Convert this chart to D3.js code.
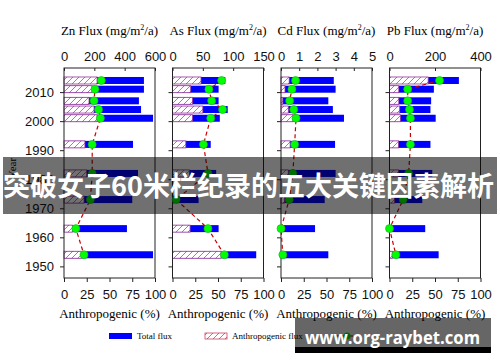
<!DOCTYPE html>
<html>
<head>
<meta charset="utf-8">
<script src="https://cdn.jsdelivr.net/npm/d3@7"></script>
<style>
  body { margin: 0; background: #fff; }
  svg { display: block; font-family: "Liberation Serif", "Times New Roman", serif; }
</style>
</head>
<body>
<svg class="svg"></svg>
<script>
// sampled years (core layers)
const years = [2014, 2011, 2007, 2004, 2001, 1992, 1982, 1973, 1963, 1954]
const yearTicks = [1950, 1960, 1970, 1980, 1990, 2000, 2010]
const pctTicks = [0, 25, 50, 75, 100]

const elements = ['Zn', 'As', 'Cd', 'Pb']
const fluxMax = [600, 150, 5, 400]
const fluxTicks = [[0, 200, 400, 600], [0, 50, 100, 150], [0, 1, 2, 3, 4, 5], [0, 200, 400]]

const znTotal = [527, 527, 494, 508, 587, 455, 488, 450, 415, 587]
const znAnthro = [218, 185, 165, 198, 218, 138, 150, 132, 55, 120]
const znPct = [41, 34, 33, 38, 40, 31, 31, 29, 13, 22]

const asTotal = [87, 76, 76, 91, 78, 63, 72, 43, 76, 138]
const asAnthro = [47, 30, 33, 50, 33, 22, 28, 2, 29, 80]
const asPct = [54, 40, 43, 55, 42, 34, 39, 4, 39, 57]

const cdTotal = [2.9, 3.0, 2.6, 2.85, 3.46, 2.97, 3.0, 2.4, 1.87, 2.6]
const cdAnthro = [0.45, 0.22, 0.1, 0.4, 0.66, 0.5, 0.4, 0.2, 0, 0.05]
const cdPct = [16, 12, 9.5, 14, 16.5, 15, 13, 9, 0, 2]

const pbTotal = [305, 195, 183, 180, 203, 180, 188, 144, 157, 216]
const pbAnthro = [170, 41, 41, 45, 48, 40, 40, 22, 0, 12]
const pbPct = [55, 20, 20, 22, 23, 23, 21, 15, 0, 7]

const totals = [znTotal, asTotal, cdTotal, pbTotal]
const anthros = [znAnthro, asAnthro, cdAnthro, pbAnthro]
const pcts = [znPct, asPct, cdPct, pbPct]

const bannerText = '突破女子60米栏纪录的五大关键因素解析'
const watermark = 'www.org-raybet.com'

// metrics
const metrics = { width: 500, height: 362, top: 68, bottom: 278, left0: 64, step: 108.5, panelW: 91, barH: 7 }

const svg = d3.select('.svg')
  .attr('width', metrics.width)
  .attr('height', metrics.height)

const defs = svg.append('defs')
const pat = defs.append('pattern')
  .attr('id', 'hatch')
  .attr('patternUnits', 'userSpaceOnUse')
  .attr('width', 6).attr('height', 6)
pat.append('rect').attr('width', 6).attr('height', 6).attr('fill', '#fff')
pat.append('path')
  .attr('d', 'M0,6 L6,0 M-1,1 L1,-1 M5,7 L7,5')
  .attr('stroke', '#e8506a').attr('stroke-width', 0.9)

const y = d3.scaleLinear().domain([1946, 2018.3]).range([metrics.bottom, metrics.top])

const rows = years.map((yr, i) => ({ year: yr, i }))

elements.forEach((el, k) => {
  const left = metrics.left0 + k * metrics.step
  const x = d3.scaleLinear().domain([0, fluxMax[k]]).range([left, left + metrics.panelW])
  const xp = d3.scaleLinear().domain([0, 100]).range([left, left + metrics.panelW])
  const g = svg.append('g')

  // title
  const title = g.append('text')
    .attr('x', left + metrics.panelW / 2)
    .attr('y', 35)
    .attr('text-anchor', 'middle')
    .attr('font-size', 13)
  title.append('tspan').text(`${el} Flux (mg/m`)
  title.append('tspan').attr('font-size', 8).attr('dy', -5).text('2')
  title.append('tspan').attr('dy', 5).text('/a)')

  // bars
  g.selectAll('rect.total')
    .data(rows)
    .join('rect')
    .attr('class', 'total')
    .attr('x', x(0))
    .attr('y', d => y(d.year) - metrics.barH / 2)
    .attr('width', d => x(totals[k][d.i]) - x(0))
    .attr('height', metrics.barH)
    .attr('fill', '#0000ff')

  g.selectAll('rect.anthro')
    .data(rows.filter(d => anthros[k][d.i] > 0))
    .join('rect')
    .attr('class', 'anthro')
    .attr('x', x(0))
    .attr('y', d => y(d.year) - metrics.barH / 2)
    .attr('width', d => x(anthros[k][d.i]) - x(0))
    .attr('height', metrics.barH)
    .attr('fill', 'url(#hatch)')
    .attr('stroke', '#993399')
    .attr('stroke-width', 0.8)

  // frame
  g.append('rect')
    .attr('x', left).attr('y', metrics.top)
    .attr('width', metrics.panelW).attr('height', metrics.bottom - metrics.top)
    .attr('fill', 'none').attr('stroke', '#222').attr('stroke-width', 1)

  // percentage line + dots
  const line = d3.line().x(d => xp(pcts[k][d.i])).y(d => y(d.year))
  g.append('path')
    .datum(rows)
    .attr('d', line)
    .attr('fill', 'none')
    .attr('stroke', '#cc0000')
    .attr('stroke-width', 1.2)
    .attr('stroke-dasharray', '4,3')

  g.selectAll('circle')
    .data(rows)
    .join('circle')
    .attr('cx', d => xp(pcts[k][d.i]))
    .attr('cy', d => y(d.year))
    .attr('r', 4)
    .attr('fill', '#00ff00')
    .attr('stroke', '#22aa22')
    .attr('stroke-width', 0.6)

  // axes
  const top = g.append('g')
    .attr('transform', `translate(0,${metrics.top})`)
    .call(d3.axisTop(x).tickValues(fluxTicks[k]).tickSize(-3).tickPadding(7).tickFormat(d => d))
  const bot = g.append('g')
    .attr('transform', `translate(0,${metrics.bottom})`)
    .call(d3.axisBottom(xp).tickValues(pctTicks).tickSize(4).tickPadding(8).tickFormat(d => d))
  const yl = g.append('g')
    .attr('transform', `translate(${left},0)`)
    .call(d3.axisLeft(y).tickValues(yearTicks).tickSize(4).tickPadding(6).tickFormat(d => d))
  ;[top, bot, yl].forEach(a => {
    a.select('.domain').remove()
    a.selectAll('text').attr('font-size', 13).attr('font-family', null).attr('fill', '#111')
    a.selectAll('line').attr('stroke', '#222')
  })
  if (k > 0) yl.selectAll('text').remove()

  g.append('text')
    .attr('x', left + metrics.panelW / 2)
    .attr('y', 318)
    .attr('text-anchor', 'middle')
    .attr('font-size', 13)
    .text('Anthropogenic (%)')
})

// y label
svg.append('text')
  .attr('transform', 'translate(16,168) rotate(-90)')
  .attr('text-anchor', 'middle')
  .attr('font-size', 11)
  .text('Year')

// legend
const lg = svg.append('g').attr('font-size', 9)
lg.append('rect').attr('x', 109).attr('y', 333).attr('width', 23).attr('height', 6).attr('fill', '#0000ff')
lg.append('text').attr('x', 137).attr('y', 339).text('Total flux')
lg.append('rect').attr('x', 205).attr('y', 333).attr('width', 22).attr('height', 6)
  .attr('fill', 'url(#hatch)').attr('stroke', '#d04060').attr('stroke-width', 0.8)
lg.append('text').attr('x', 232).attr('y', 339).text('Anthropogenic flux')
lg.append('line').attr('x1', 335).attr('x2', 360).attr('y1', 336).attr('y2', 336)
  .attr('stroke', '#cc0000').attr('stroke-width', 1.2).attr('stroke-dasharray', '4,3')
lg.append('circle').attr('cx', 347).attr('cy', 336).attr('r', 3.5).attr('fill', '#00ff00')

// overlay banner
svg.append('rect')
  .attr('x', 3).attr('y', 157).attr('width', 494).attr('height', 57)
  .attr('fill', 'rgba(0,0,0,0.56)')
svg.append('text')
  .attr('x', 3).attr('y', 196)
  .attr('font-family', '"Noto Sans CJK SC", sans-serif')
  .attr('font-weight', 'bold')
  .attr('font-size', 27)
  .attr('fill', '#fff')
  .attr('textLength', 491)
  .attr('lengthAdjust', 'spacingAndGlyphs')
  .text(bannerText)

// watermark
svg.append('rect').attr('x', 295).attr('y', 318).attr('width', 196).attr('height', 29).attr('fill', 'rgba(0,0,0,0.6)')
svg.append('rect').attr('x', 295).attr('y', 347).attr('width', 196).attr('height', 6).attr('fill', '#000')
svg.append('text')
  .attr('x', 305).attr('y', 344)
  .attr('font-family', '"Open Sans", "DejaVu Sans", sans-serif')
  .attr('font-weight', 'bold')
  .attr('font-size', 18)
  .attr('fill', '#fff')
  .attr('textLength', 175)
  .attr('lengthAdjust', 'spacingAndGlyphs')
  .text(watermark)
</script>
</body>
</html>
